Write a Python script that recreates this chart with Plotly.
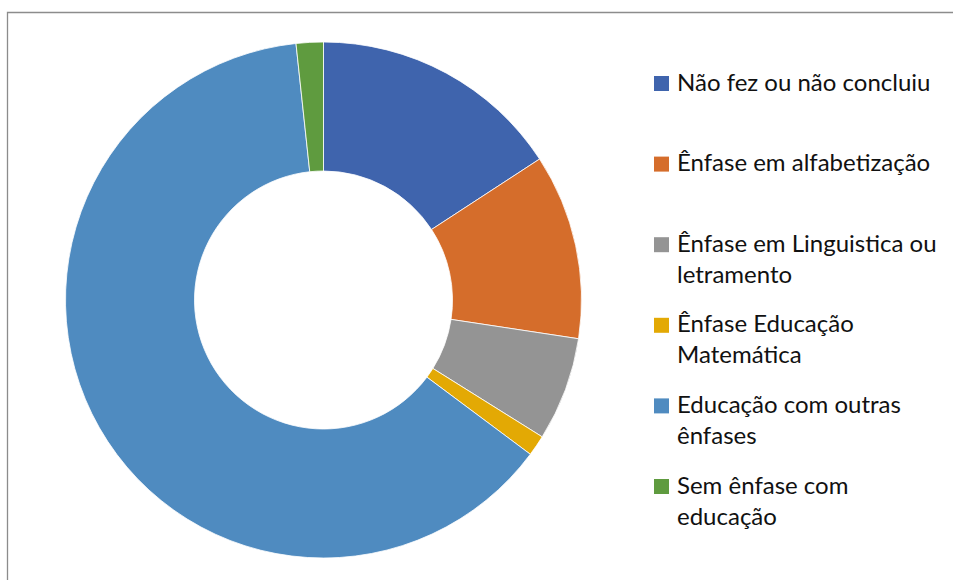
import plotly.graph_objects as go

labels = [
    "Não fez ou não concluiu",
    "Ênfase em alfabetização",
    "Ênfase em Linguistica ou<br>letramento",
    "Ênfase Educação<br>Matemática",
    "Educação com outras<br>ênfases",
    "Sem ênfase com<br>educação",
]
values = [15.8, 11.6, 6.5, 1.3, 63.1, 1.7]
colors = ["#3F64AD", "#D56D2B", "#949494", "#E3A904", "#4F8BC0", "#5F9B3F"]

W, H = 953, 580
cx, cy, R = 323.5, 300, 258

fig = go.Figure(go.Pie(
    labels=labels,
    values=values,
    hole=0.5,
    sort=False,
    direction="clockwise",
    rotation=0,
    textinfo="none",
    showlegend=False,
    marker=dict(colors=colors, line=dict(color="white", width=0.8)),
    domain=dict(x=[(cx - R) / W, (cx + R) / W], y=[(H - cy - R) / H, (H - cy + R) / H]),
))

# legend (Excel-style: evenly spaced entries, symbol aligned with first line)
FS = 24
leg_top = 83.5      # centre of first entry's first line, px from top
leg_step = 80.6     # spacing between entries, px
sq_x0, sq_x1 = 654, 669
text_x = 675
shapes = []
annotations = []
for i, (lab, col) in enumerate(zip(labels, colors)):
    yc = leg_top + i * leg_step
    shapes.append(dict(type="rect", xref="paper", yref="paper",
                       x0=sq_x0 / W, x1=sq_x1 / W,
                       y0=1 - (yc + 7.5) / H, y1=1 - (yc - 7.5) / H,
                       fillcolor=col, line=dict(width=0)))
    annotations.append(dict(text=lab, xref="paper", yref="paper",
                            x=text_x / W, xanchor="left",
                            y=1 - (yc - 19) / H, yanchor="top",
                            align="left", showarrow=False,
                            font=dict(size=FS, color="#111111")))

shapes.append(dict(type="rect", xref="paper", yref="paper",
                   x0=7.5 / W, x1=1.02, y0=-0.02, y1=1 - 12.5 / H,
                   line=dict(color="#8C8C8C", width=1.3)))

fig.update_layout(
    width=W, height=H,
    margin=dict(l=0, r=0, t=0, b=0),
    paper_bgcolor="white",
    plot_bgcolor="white",
    font=dict(family="Lato, 'Liberation Sans', sans-serif", size=FS, color="#111111"),
    shapes=shapes,
    annotations=annotations,
)

fig.write_html("out.html")
